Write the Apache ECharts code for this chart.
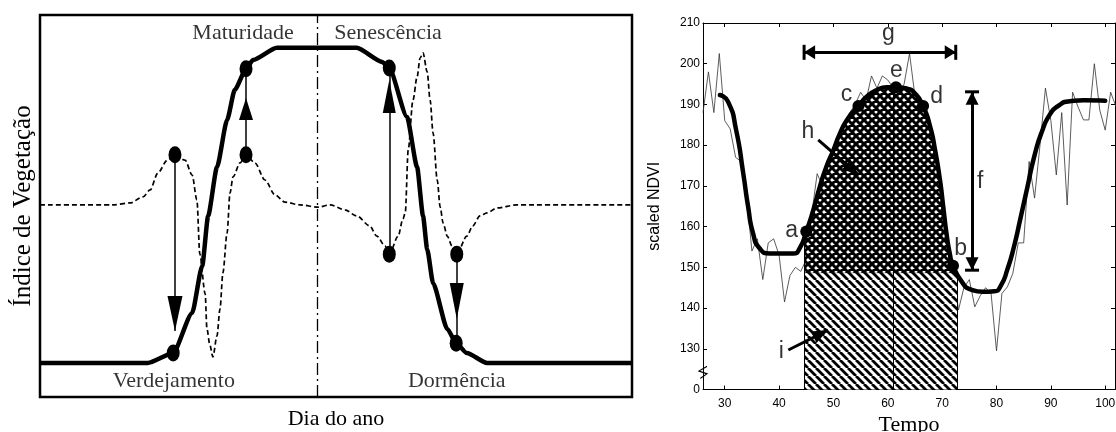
<!DOCTYPE html>
<html><head><meta charset="utf-8">
<script src="https://cdn.jsdelivr.net/npm/echarts@6/dist/echarts.min.js"></script>
<style>html,body{margin:0;padding:0;background:#fff}#c{width:1116px;height:432px}</style>
</head><body><div id="c"></div>
<script>
// ---------- Left panel (schematic, arbitrary 0..100 units) ----------
const phaseX = [0, 18.2, 22.5, 25.7, 27.4, 28.4, 29.9, 31.6, 32.9, 34.8, 36.0, 40.0, 53.5, 57.8, 59.0, 62.0, 63.7, 64.7, 65.4, 66.4, 68.8, 70.3, 72.1, 75.5, 100];
const phaseY = [8.9, 8.9, 11.5, 22.0, 34.3, 47.4, 60.2, 72.5, 80.4, 85.9, 88.2, 91.4, 91.4, 87.7, 86.1, 73.3, 60.2, 47.4, 38.7, 29.8, 17.8, 14.1, 11.5, 8.9, 8.9];
const derivX = [0, 12.3, 15.2, 17.4, 18.6, 19.9, 21.5, 22.8, 24.5, 25.7, 26.5, 27.0, 27.9, 28.2, 28.7, 29.2, 29.9, 30.4, 30.9, 31.6, 32.1, 32.6, 33.8, 34.8, 36.3, 38.0, 39.7, 41.4, 43.9, 47.0, 49.0, 51.5, 53.5, 55.7, 56.9, 58.3, 59.0, 60.5, 61.3, 61.7, 62.2, 63.0, 63.7, 64.2, 64.7, 65.4, 65.9, 66.4, 67.1, 67.6, 68.1, 68.8, 69.6, 70.4, 72.1, 73.1, 74.3, 75.5, 77.2, 80.6, 100];
const derivY = [50.3, 50.3, 50.8, 52.4, 54.2, 58.6, 62.0, 63.4, 62.0, 58.1, 51.6, 37.4, 27.0, 17.8, 13.6, 10.5, 16.0, 23.0, 32.5, 42.9, 53.4, 57.6, 61.3, 63.4, 61.3, 56.8, 52.9, 51.0, 50.3, 49.7, 50.3, 49.0, 47.4, 44.8, 42.1, 39.5, 37.4, 42.1, 46.6, 48.2, 64.7, 77.7, 83.8, 88.7, 90.1, 85.1, 77.7, 69.1, 56.8, 49.7, 45.5, 42.1, 39.5, 37.4, 42.1, 44.8, 47.4, 48.2, 49.5, 50.3, 50.3];
const dotX = [22.5, 22.8, 34.8, 34.8, 59.0, 59.0, 70.4, 70.3];
const dotY = [11.5, 63.4, 85.9, 63.4, 86.1, 37.4, 37.4, 14.1];
const shaftX = [22.8, 34.8, 59.0, 70.4];
const shaftFromY = [63.4, 63.4, 37.4, 37.4];
const shaftToY = [17.3, 85.9, 86.1, 14.1];
const tipY = [17.3, 78.3, 83.0, 20.4];
const tipDir = [180, 0, 0, 180];
const midDayX = 46.8;
const phaseNames = ['Maturidade', 'Senescência', 'Verdejamento', 'Dormência'];
const phaseNameX = [34.3, 58.8, 22.6, 70.4];
const phaseNameY = [95.3, 95.3, 4.2, 4.2];

// ---------- Right panel (NDVI time series) ----------
const xTickValues = [30, 40, 50, 60, 70, 80, 90, 100];
const yTickValues = [120, 130, 140, 150, 160, 170, 180, 190, 200, 210];
const yTickLabels = ['0', '130', '140', '150', '160', '170', '180', '190', '200', '210'];
const rawDay = [26,27,28,29,30,31,32,33,34,35,36,37,38,39,40,41,42,43,44,45,46,47,48,49,50,51,52,53,54,55,56,57,58,59,60,61,62,63,64,65,66,67,68,69,70,71,72,73,74,75,76,77,78,79,80,81,82,83,84,85,86,87,88,89,90,91,92,93,94,95,96,97,98,99,100,101,102];
const rawNdvi = [188,198,188,202.5,186,184,177,176,168,154,157,147,156,157,153,141.5,148,150,149,152,163,173,170,176,179,182,185,188,190,193,191,197,194,197,196,194,193,195,202.5,192,190,186,180,173,165,156,150,139.5,145,147,140.3,143,145,143.6,129.5,143.6,145.2,148.5,156,156,176,167,180,194,186,172.7,188,165.3,193,189.4,186.2,186.2,200,188.6,183.7,193,189.4];
const fitX = [29.1, 30.6, 32.1, 33.4, 34.3, 35.2, 36.4, 38.3, 42.6, 43.8, 45.0, 46.3, 47.5, 48.7, 50.0, 51.2, 52.7, 54.6, 56.1, 57.9, 59.8, 61.5, 63.5, 65.0, 66.5, 67.8, 68.7, 69.6, 70.2, 70.8, 71.4, 72.0, 73.6, 75.2, 77.5, 79.6, 80.8, 82.0, 83.2, 84.4, 85.7, 87.0, 88.4, 89.8, 91.3, 93.5, 96.0, 100.0];
const fitY = [192.3, 190.7, 183.7, 173.1, 164.9, 158.4, 154.7, 153.4, 153.4, 154.7, 158.8, 164.1, 169.8, 174.7, 178.8, 182.9, 186.6, 189.6, 191.9, 193.5, 194.2, 194.2, 193.9, 192.7, 189.6, 184.5, 178.8, 171.4, 164.9, 158.3, 153.4, 150.4, 146.5, 144.6, 144.0, 144.1, 145.5, 149.5, 155.0, 162.0, 169.8, 177.5, 183.5, 187.5, 189.6, 190.8, 191.0, 190.9];
const keyX = [45.0, 72.0, 54.6, 66.5, 61.5];   // a, b, c, d, e
const keyY = [158.8, 150.4, 189.6, 189.6, 194.2];
const seasonStart = 44.6, seasonEnd = 72.8, seasonBase = 148.7, startValue = 157.4, peakDay = 61.0, peakValue = 194.2;
const gY = 202.8, gX0 = 44.6, gX1 = 72.5;
const fX = 75.5, fY0 = 193.1, fY1 = 149.3;
const hFrom = [47.2, 181.3], hTo = [54.6, 172.7];
const iFrom = [41.7, 129.7], iTo = [49.0, 134.6];
const letterText = ['a', 'b', 'c', 'd', 'e', 'f', 'g', 'h', 'i'];
const letterX = [42.3, 73.4, 52.4, 69.0, 61.6, 77.0, 60.1, 45.3, 40.4];
const letterY = [159.1, 154.6, 192.3, 191.9, 198.3, 171.0, 207.5, 183.3, 129.2];
const breakAt = [26, 124.2];

// ---------- patterns ----------
function tile(size, dirs, lw) {
  const c = document.createElement('canvas'); c.width = c.height = size;
  const g = c.getContext('2d'); g.fillStyle = '#fff'; g.fillRect(0, 0, size, size);
  g.strokeStyle = '#000'; g.lineWidth = lw; g.beginPath();
  for (const d of dirs) for (const k of [-size, 0, size]) {
    if (d > 0) { g.moveTo(k, 0); g.lineTo(k + size, size); }
    else { g.moveTo(k + size, 0); g.lineTo(k, size); }
  }
  g.stroke(); return c;
}
const crossPattern = { image: tile(8, [1, -1], 3.0), repeat: 'repeat' };
const diagPattern = { image: tile(8, [1], 2.8), repeat: 'repeat' };

function head(x, y, a, w, h) {
  const r = a * Math.PI / 180;
  return { value: [x, y], symbolSize: [w, h], symbolRotate: -a, symbolOffset: [-h / 2 * Math.sin(r), h / 2 * Math.cos(r)] };
}
const zip = (a, b) => a.map((v, i) => [v, b[i]]);
const L = { xAxisIndex: 0, yAxisIndex: 0 };
const R = { xAxisIndex: 1, yAxisIndex: 1 };
const serif = 'Liberation Serif';
const sans = 'Liberation Sans';
const solidBlack = { color: '#000', opacity: 1 };

const leftHeadSizes = [[15, 35], [14, 22], [13, 33], [14, 36]];
const hatchCurve = [[seasonStart, seasonBase], [seasonStart, startValue]]
  .concat(zip(fitX, fitY).filter(p => p[0] > seasonStart && p[0] < seasonEnd))
  .concat([[seasonEnd, seasonBase]]);

const option = {
  animation: false,
  backgroundColor: '#fff',
  grid: [
    { left: 40, top: 15, width: 592, height: 382, show: true, borderColor: '#000', borderWidth: 2.5, backgroundColor: 'transparent', containLabel: false, outerBoundsMode: 'none' },
    { left: 703, top: 23, right: 1, bottom: 42.5, show: false, containLabel: false, outerBoundsMode: 'none' }
  ],
  xAxis: [
    { type: 'value', gridIndex: 0, min: 0, max: 100, axisLine: { show: false }, axisTick: { show: false }, axisLabel: { show: false }, splitLine: { show: false },
      name: 'Dia do ano', nameLocation: 'middle', nameGap: 11, nameTextStyle: { fontFamily: serif, fontSize: 22, color: '#000', verticalAlign: 'top' } },
    { type: 'value', gridIndex: 1, min: 26, max: 101.8, axisLine: { onZero: false, lineStyle: { color: '#000', width: 1 } },
      axisTick: { inside: true, length: 4, customValues: xTickValues, lineStyle: { color: '#000' } },
      axisLabel: { customValues: xTickValues, margin: 8, fontFamily: sans, fontSize: 12, color: '#000' }, splitLine: { show: false },
      name: 'Tempo', nameLocation: 'middle', nameGap: 20, nameTextStyle: { fontFamily: serif, fontSize: 22, color: '#000', verticalAlign: 'top' } },
    { type: 'value', gridIndex: 1, position: 'top', min: 26, max: 101.8, axisLine: { onZero: false, lineStyle: { color: '#000', width: 1 } },
      axisTick: { inside: true, length: 4, customValues: xTickValues, lineStyle: { color: '#000' } }, axisLabel: { show: false }, splitLine: { show: false } }
  ],
  yAxis: [
    { type: 'value', gridIndex: 0, min: 0, max: 100, axisLine: { show: false }, axisTick: { show: false }, axisLabel: { show: false }, splitLine: { show: false },
      name: 'Índice de Vegetação', nameLocation: 'middle', nameGap: 4, nameTextStyle: { fontFamily: serif, fontSize: 25, color: '#000' } },
    { type: 'value', gridIndex: 1, min: 120, max: 210, interval: 10, axisLine: { onZero: false, lineStyle: { color: '#000', width: 1 } },
      axisTick: { inside: true, length: 4, lineStyle: { color: '#000' } },
      axisLabel: { margin: 3, fontFamily: sans, fontSize: 12, color: '#000', formatter: v => { const i = yTickValues.indexOf(v); return i < 0 ? '' : yTickLabels[i]; } },
      splitLine: { show: false },
      name: 'scaled NDVI', nameLocation: 'middle', nameGap: 40, nameTextStyle: { fontFamily: sans, fontSize: 16, color: '#000' } },
    { type: 'value', gridIndex: 1, position: 'right', min: 120, max: 210, interval: 10, axisLine: { onZero: false, lineStyle: { color: '#000', width: 1 } },
      axisTick: { inside: true, length: 4, lineStyle: { color: '#000' } }, axisLabel: { show: false }, splitLine: { show: false } }
  ],
  series: [
    // ---- left ----
    Object.assign({ type: 'lines', coordinateSystem: 'cartesian2d', z: 2, silent: true,
      lineStyle: { color: '#000', width: 1.3, type: [12, 4, 2, 4], opacity: 1 },
      data: [{ coords: [[midDayX, 0], [midDayX, 100]] }] }, L),
    Object.assign({ type: 'line', name: 'derivada', data: zip(derivX, derivY), smooth: 0.3, smoothMonotone: 'x', showSymbol: false, z: 3,
      lineStyle: { color: '#000', width: 1.7, type: [5, 3] } }, L),
    Object.assign({ type: 'line', name: 'fenologia', data: zip(phaseX, phaseY), smooth: 0.2, smoothMonotone: 'x', showSymbol: false, z: 4,
      lineStyle: { color: '#000', width: 4.5 } }, L),
    Object.assign({ type: 'lines', coordinateSystem: 'cartesian2d', z: 5, silent: true,
      lineStyle: { color: '#000', width: 1.5, opacity: 1 },
      data: shaftX.map((x, i) => ({ coords: [[x, shaftFromY[i]], [x, shaftToY[i]]] })) }, L),
    Object.assign({ type: 'scatter', symbol: 'triangle', z: 6, itemStyle: solidBlack,
      data: shaftX.map((x, i) => head(x, tipY[i], tipDir[i], leftHeadSizes[i][0], leftHeadSizes[i][1])) }, L),
    Object.assign({ type: 'scatter', symbol: 'circle', symbolSize: [13, 17], z: 7, itemStyle: solidBlack, data: zip(dotX, dotY) }, L),
    Object.assign({ type: 'scatter', symbolSize: 1, z: 8, itemStyle: { color: 'transparent' },
      label: { show: true, position: 'inside', formatter: p => phaseNames[p.dataIndex], fontFamily: serif, fontSize: 22, color: '#000' },
      data: zip(phaseNameX, phaseNameY) }, L),

    // ---- right ----
    Object.assign({ type: 'line', name: 'NDVI', data: zip(rawDay, rawNdvi), showSymbol: false, z: 1,
      lineStyle: { color: '#333', width: 0.8 } }, R),
    Object.assign({ type: 'line', data: [[seasonStart, seasonBase], [seasonEnd, seasonBase]], showSymbol: false, z: 2,
      lineStyle: { color: '#000', width: 1 }, areaStyle: { color: diagPattern, opacity: 1, origin: 'start' } }, R),
    Object.assign({ type: 'line', data: hatchCurve, showSymbol: false, z: 3,
      lineStyle: { width: 0 }, areaStyle: { color: crossPattern, opacity: 1, origin: seasonBase } }, R),
    Object.assign({ type: 'lines', coordinateSystem: 'cartesian2d', z: 3, silent: true,
      lineStyle: { color: '#000', width: 1, opacity: 1 },
      data: [{ coords: [[seasonStart, 120], [seasonStart, startValue]] }, { coords: [[seasonEnd, 120], [seasonEnd, seasonBase]] }, { coords: [[peakDay, 120], [peakDay, peakValue]] }] }, R),
    Object.assign({ type: 'line', name: 'ajuste', data: zip(fitX, fitY), smooth: 0.6, showSymbol: false, z: 4,
      lineStyle: { color: '#000', width: 4.5, join: 'round', cap: 'round' } }, R),
    Object.assign({ type: 'scatter', symbol: 'circle', symbolSize: 12, z: 5, itemStyle: solidBlack, data: zip(keyX, keyY) }, R),
    Object.assign({ type: 'lines', coordinateSystem: 'cartesian2d', z: 5, silent: true,
      lineStyle: { color: '#000', width: 3, opacity: 1 },
      data: [{ coords: [[gX0, gY], [gX1, gY]] }, { coords: [[fX, fY0], [fX, fY1]] }, { coords: [hFrom, hTo] }, { coords: [iFrom, iTo] }] }, R),
    Object.assign({ type: 'scatter', symbol: 'triangle', z: 6, itemStyle: solidBlack,
      data: [head(gX0, gY, 270, 14, 11), head(gX1, gY, 90, 14, 11), head(fX, fY0, 0, 13, 13), head(fX, fY1, 180, 13, 13),
             head(hTo[0], hTo[1], 131, 13, 16), head(iTo[0], iTo[1], 63.4, 13, 16)] }, R),
    Object.assign({ type: 'scatter', symbol: 'rect', z: 6, itemStyle: solidBlack,
      data: [{ value: [gX0, gY], symbolSize: [3, 15] }, { value: [gX1, gY], symbolSize: [3, 15] },
             { value: [fX, fY0], symbolSize: [14, 3] }, { value: [fX, fY1], symbolSize: [14, 3] }] }, R),
    Object.assign({ type: 'scatter', symbolSize: 1, z: 7, itemStyle: { color: 'transparent' },
      label: { show: true, position: 'inside', formatter: p => letterText[p.dataIndex], fontFamily: sans, fontSize: 23, color: '#000' },
      data: zip(letterX, letterY) }, R),
    Object.assign({ type: 'scatter', symbol: 'path://M6,0 L0,5 L6,8 L1,13', symbolSize: [8, 12], z: 7,
      itemStyle: { color: 'none', borderColor: '#000', borderWidth: 1, opacity: 1 }, data: [breakAt] }, R)
  ]
};
const chart = echarts.init(document.getElementById('c'));
chart.setOption(option);
</script>
</body></html>
